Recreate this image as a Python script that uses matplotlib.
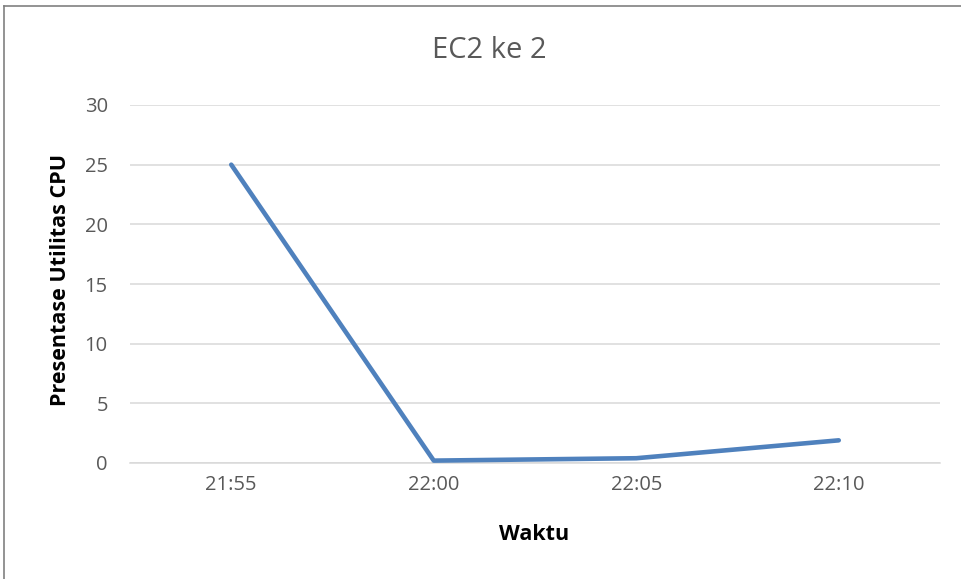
import matplotlib.pyplot as plt
from matplotlib.lines import Line2D

times = ["21:55", "22:00", "22:05", "22:10"]
cpu = [25, 0.2, 0.4, 1.9]
y_ticks = [0, 5, 10, 15, 20, 25, 30]

plt.rcParams['font.family'] = ['Open Sans', 'DejaVu Sans']

W, H = 961, 579
fig = plt.figure(figsize=(W / 100, H / 100), dpi=100)
ax = fig.add_axes([130 / W, 1 - 463 / H, 810 / W, 358 / H])

x = list(range(len(times)))
ax.plot(x, cpu, color='#4f81bd', lw=3.3, solid_capstyle='round', solid_joinstyle='round', zorder=3)

ax.set_xlim(-0.5, len(times) - 0.5)
ax.set_ylim(0, 30)
ax.set_xticks(x)
ax.set_xticklabels(times)
ax.set_yticks(y_ticks)
ax.grid(True, axis='y', color='#d9d9d9', lw=1.1)
ax.set_axisbelow(True)
for s in ['top', 'right', 'left']:
    ax.spines[s].set_visible(False)
ax.spines['bottom'].set_color('#d9d9d9')
ax.spines['bottom'].set_linewidth(1.1)
ax.tick_params(axis='both', length=0, labelsize=14.5, colors='#595959')
ax.tick_params(axis='x', pad=9)
ax.tick_params(axis='y', pad=16)

# title and axis labels placed at the reference positions
fig.text(489 / W, 1 - 51 / H, "EC2 ke 2", fontsize=21, color='#595959', ha='center', va='center')
fig.text(534 / W, 1 - 535 / H, "Waktu", fontsize=15.5, fontweight='bold', ha='center', va='center')
fig.text(60 / W, 1 - 280 / H, "Presentase Utilitas CPU", fontsize=15.5, fontweight='bold',
         rotation=90, ha='center', va='center')

# chart border (only left and top edges visible in the crop)
fig.add_artist(Line2D([4 / W, 4 / W], [0, 1 - 6 / H], color='#808080', lw=1.2))
fig.add_artist(Line2D([4 / W, 1], [1 - 6 / H, 1 - 6 / H], color='#808080', lw=1.2))

fig.savefig("out.png", dpi=100)
